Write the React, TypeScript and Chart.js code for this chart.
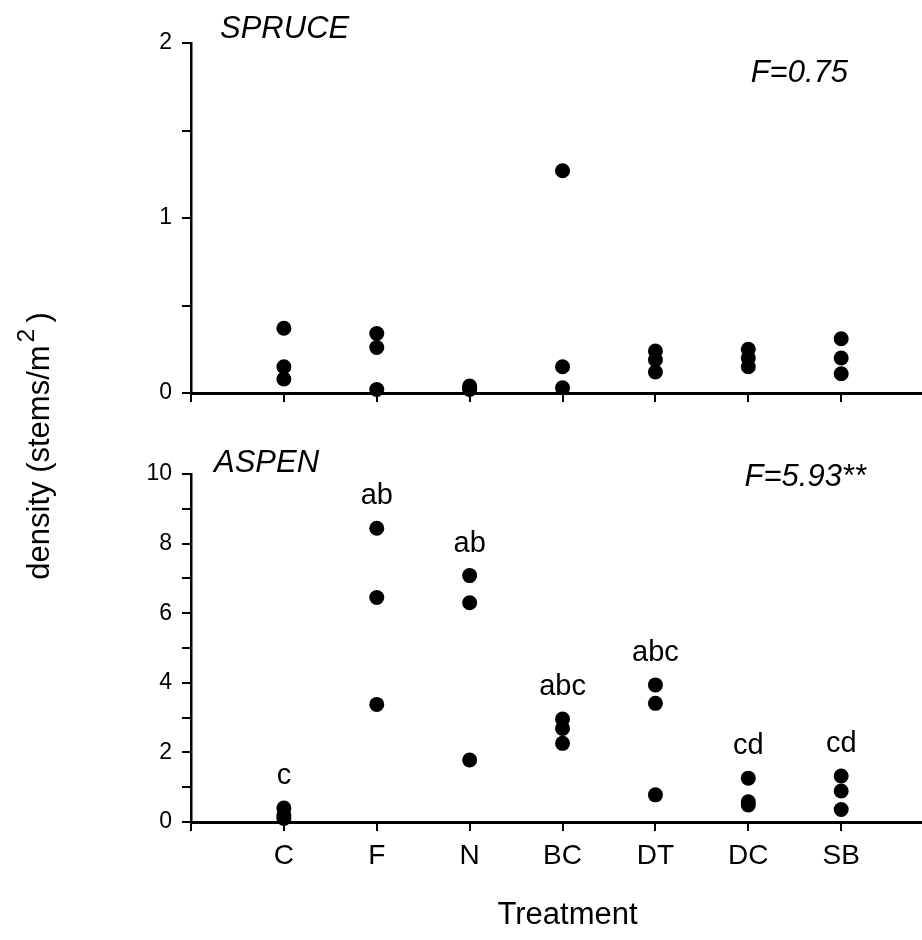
import React, { useEffect, useRef } from 'react';
import { Chart, registerables } from 'chart.js';

Chart.register(...registerables);

// ---------- data ----------
const categories = ['C', 'F', 'N', 'BC', 'DT', 'DC', 'SB'];

// spruce density (stems/m^2), three replicates per treatment
const spruceRep1 = [0.37, 0.34, 0.04, 1.27, 0.24, 0.25, 0.31];
const spruceRep2 = [0.15, 0.26, 0.03, 0.15, 0.19, 0.20, 0.20];
const spruceRep3 = [0.08, 0.02, 0.02, 0.03, 0.12, 0.15, 0.11];

// aspen density (stems/m^2), three replicates per treatment
const aspenRep1 = [0.40, 8.44, 7.08, 2.96, 3.94, 1.26, 1.32];
const aspenRep2 = [0.20, 6.45, 6.30, 2.69, 3.41, 0.58, 0.89];
const aspenRep3 = [0.10, 3.38, 1.78, 2.26, 0.78, 0.49, 0.36];

// multiple-comparison letters for aspen
const aspenLetters = ['c', 'ab', 'ab', 'abc', 'abc', 'cd', 'cd'];

const spruceTickLabels = ['0', '1', '2'];
const aspenTickLabels = ['0', '2', '4', '6', '8', '10'];

const spruceTitle = 'SPRUCE';
const spruceStat = 'F=0.75';
const aspenTitle = 'ASPEN';
const aspenStat = 'F=5.93**';
const xTitle = 'Treatment';

// ---------- config ----------
const FONT = '"Liberation Sans", Arial, Helvetica, sans-serif';
Chart.defaults.font.family = FONT;
Chart.defaults.color = '#000';

const panelText = {
  id: 'panelText',
  afterDatasetsDraw(chart: any, _args: any, opts: any) {
    const { ctx, chartArea, scales } = chart;
    ctx.save();
    ctx.fillStyle = '#000';
    ctx.font = `italic 31px ${FONT}`;
    ctx.textBaseline = 'alphabetic';
    ctx.textAlign = 'left';
    ctx.fillText(opts.title, chartArea.left + opts.titleDx, chartArea.top + opts.titleDy);
    ctx.textAlign = 'right';
    ctx.fillText(opts.stat, chartArea.right - opts.statDx, chartArea.top + opts.statDy);
    if (opts.letters) {
      ctx.font = `29px ${FONT}`;
      ctx.textAlign = 'center';
      ctx.textBaseline = 'middle';
      opts.letters.forEach((txt: string, i: number) => {
        const top = Math.max(...opts.series.map((s: number[]) => s[i]));
        const px = scales.x.getPixelForValue(i + 1);
        const py = scales.y.getPixelForValue(top) - 32;
        ctx.fillText(txt, px, py);
      });
    }
    if (opts.xTitle) {
      ctx.font = `31px ${FONT}`;
      ctx.textAlign = 'center';
      ctx.textBaseline = 'alphabetic';
      ctx.fillText(opts.xTitle, scales.x.getPixelForValue(4) + 5, chartArea.bottom + opts.xTitleDy);
    }
    ctx.restore();
  },
};

function makeConfig(opts: {
  series: number[][];
  yMax: number;
  yStep: number;
  yLabels: string[];
  labelEvery: number;
  showX: boolean;
  padTop: number;
  xAxisHeight: number;
  text: any;
}): any {
  const datasets = opts.series.map((s) => ({
    data: s.map((v, i) => ({ x: i + 1, y: v })),
    backgroundColor: '#000',
    borderColor: '#000',
    borderWidth: 0,
    pointRadius: 7.5,
    pointHoverRadius: 7.5,
    clip: false,
  }));
  return {
    type: 'scatter',
    data: { datasets },
    options: {
      responsive: false,
      animation: false,
      events: [],
      layout: { autoPadding: false, padding: { left: 0, right: 0, top: opts.padTop, bottom: 0 } },
      plugins: {
        legend: { display: false },
        tooltip: { enabled: false },
        panelText: { ...opts.text, series: opts.series },
      },
      scales: {
        x: {
          type: 'linear',
          min: 0,
          max: 7.87,
          afterBuildTicks: (scale: any) => {
            scale.ticks = [0, 1, 2, 3, 4, 5, 6, 7].map((v) => ({ value: v }));
          },
          afterFit: (scale: any) => {
            scale.height = opts.xAxisHeight;
          },
          ticks: {
            padding: 8,
            maxRotation: 0,
            autoSkip: false,
            font: { size: 28 },
            color: '#000',
            callback: (v: number) => (opts.showX && v >= 1 ? categories[v - 1] : ''),
          },
          grid: {
            display: true,
            drawOnChartArea: false,
            drawTicks: true,
            tickLength: 9,
            color: '#000',
            lineWidth: 2,
          },
          border: { display: true, color: '#000', width: 3 },
        },
        y: {
          type: 'linear',
          min: 0,
          max: opts.yMax,
          afterFit: (scale: any) => {
            scale.width = 191;
          },
          ticks: {
            stepSize: opts.yStep,
            padding: 10,
            font: { size: 23 },
            color: '#000',
            callback: (v: number) => {
              const idx = Math.round(v / (opts.yStep * opts.labelEvery));
              return Math.abs(v - idx * opts.yStep * opts.labelEvery) < 1e-6 ? opts.yLabels[idx] : '';
            },
          },
          grid: {
            display: true,
            drawOnChartArea: false,
            drawTicks: true,
            tickLength: 9,
            color: '#000',
            lineWidth: 2,
          },
          border: { display: true, color: '#000', width: 2.5 },
        },
      },
    },
    plugins: [panelText],
  };
}

export default function App() {
  const topRef = useRef<HTMLCanvasElement>(null);
  const botRef = useRef<HTMLCanvasElement>(null);

  useEffect(() => {
    const c1 = new Chart(
      topRef.current as HTMLCanvasElement,
      makeConfig({
        series: [spruceRep1, spruceRep2, spruceRep3],
        yMax: 2,
        yStep: 0.5,
        yLabels: spruceTickLabels,
        labelEvery: 2,
        showX: false,
        padTop: 43,
        xAxisHeight: 37,
        text: { title: spruceTitle, titleDx: 29, titleDy: -5, stat: spruceStat, statDx: 74, statDy: 39 },
      })
    );
    const c2 = new Chart(
      botRef.current as HTMLCanvasElement,
      makeConfig({
        series: [aspenRep1, aspenRep2, aspenRep3],
        yMax: 10,
        yStep: 1,
        yLabels: aspenTickLabels,
        labelEvery: 2,
        showX: true,
        padTop: 44,
        xAxisHeight: 118,
        text: {
          title: aspenTitle,
          titleDx: 23,
          titleDy: -2,
          stat: aspenStat,
          statDx: 56,
          statDy: 12,
          letters: aspenLetters,
          xTitle: xTitle,
          xTitleDy: 102,
        },
      })
    );
    return () => {
      c1.destroy();
      c2.destroy();
    };
  }, []);

  return (
    <div style={{ position: 'absolute', left: 0, top: 0, width: 922, height: 940, background: '#fff', overflow: 'hidden' }}>
      <canvas ref={topRef} width={922} height={430} style={{ position: 'absolute', left: 0, top: 0 }} />
      <canvas ref={botRef} width={922} height={510} style={{ position: 'absolute', left: 0, top: 430 }} />
      <div
        style={{
          position: 'absolute',
          left: 39 - 170,
          top: 446 - 21,
          width: 340,
          height: 42,
          lineHeight: '42px',
          transform: 'rotate(-90deg)',
          textAlign: 'center',
          fontFamily: FONT,
          fontSize: 31,
          color: '#000',
          whiteSpace: 'nowrap',
        }}
      >
        density (stems/m
        <span style={{ fontSize: '0.8em', position: 'relative', top: '-0.6em', marginLeft: 3, marginRight: 6 }}>2</span>)
      </div>
    </div>
  );
}
